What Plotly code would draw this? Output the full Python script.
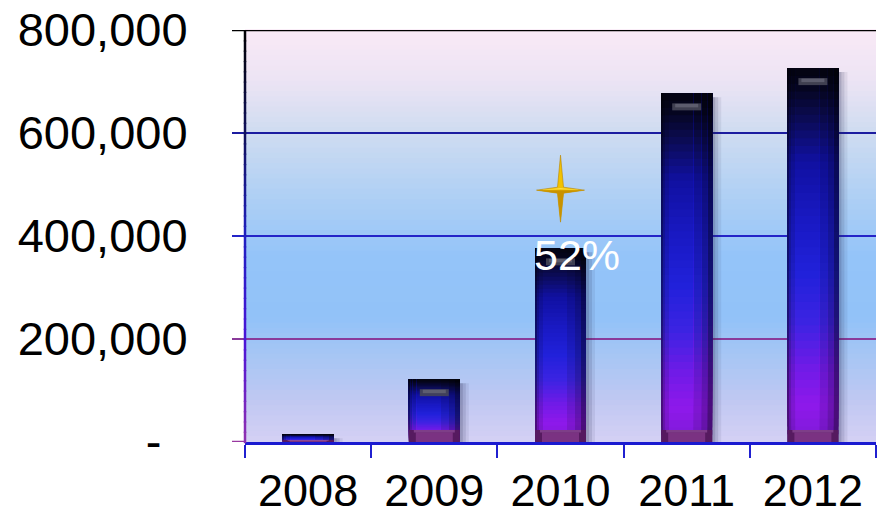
import plotly.graph_objects as go

# ---- data ----
years = ["2008", "2009", "2010", "2011", "2012"]
values = [15000, 122000, 376000, 677000, 726000]
y_tick_vals = [0, 200000, 400000, 600000, 800000]
y_tick_text = ["-\u00a0\u00a0", "200,000", "400,000", "600,000", "800,000"]
growth_label = "52%"
growth_year = "2010"

# ---- geometry helpers (plot area is 631 x 412 px) ----
PLOT_W, PLOT_H = 631, 412
Y_MAX = 800000
PX_X = 5.0 / PLOT_W          # one pixel in category units
PX_Y = Y_MAX / PLOT_H        # one pixel in value units
BAR_W = 51 * PX_X


def hex_to_rgb(h):
    h = h.lstrip("#")
    return tuple(int(h[i:i + 2], 16) for i in (0, 2, 4))


def ramp(stops, f, k=1.0):
    f = max(0.0, min(1.0, f))
    for (f0, c0), (f1, c1) in zip(stops, stops[1:]):
        if f0 <= f <= f1:
            t = 0 if f1 == f0 else (f - f0) / (f1 - f0)
            a, b = hex_to_rgb(c0), hex_to_rgb(c1)
            r = [min(255, int(round((a[i] + (b[i] - a[i]) * t) * k))) for i in range(3)]
            return "rgb(%d,%d,%d)" % tuple(r)
    return stops[-1][1]


# vertical colour ramp of a bar, 0 = bottom, 1 = top
bar_stops = [
    (0.00, "#7a1ad0"), (0.10, "#8a18e4"), (0.20, "#6c1ae0"), (0.32, "#3a22dc"),
    (0.45, "#2020d4"), (0.60, "#1818bc"), (0.75, "#10109c"), (0.88, "#0a0a48"),
    (0.95, "#05051e"), (1.00, "#03030f"),
]
# plot background ramp, 0 = top, 1 = bottom
bg_stops = [
    (0.00, "#f9e9f6"), (0.12, "#ede4f4"), (0.25, "#cfdcf1"), (0.40, "#b0d0f4"),
    (0.55, "#94c4f9"), (0.70, "#92c2f8"), (0.80, "#a8c6f4"), (0.90, "#c0c8f2"),
    (1.00, "#d4d0f4"),
]
# left axis line ramp, 0 = top, 1 = bottom
axis_stops = [
    (0.00, "#000000"), (0.25, "#10105a"), (0.50, "#2020c0"), (0.75, "#4a14d8"),
    (1.00, "#9030b0"),
]

fig = go.Figure()
n = len(years)


def add_bar(base, height, left_px, width_px, color, opacity=1.0):
    fig.add_trace(go.Bar(
        x=years, y=height, base=base,
        width=[width_px * PX_X] * n,
        offset=[-BAR_W / 2 + left_px * PX_X] * n,
        marker=dict(color=color, line=dict(width=0)),
        opacity=opacity, hoverinfo="skip", showlegend=False,
    ))


# soft drop shadow to the right
for dx, op in [(9, 0.08), (6, 0.12), (3, 0.16)]:
    add_bar([0] * n, [max(v - 4 * PX_Y, 0) for v in values], dx, 51, "rgb(40,40,80)", op)

# bar body: stacked gradient slices, four layers for the rounded side shading
SEG = 48
layers = [(0, 51, 0.55), (2, 44, 0.78), (4, 36, 0.92), (8, 24, 1.03)]
for left, width, k in layers:
    for s in range(SEG):
        f0 = s / SEG
        col = ramp(bar_stops, f0 + 0.5 / SEG, k)
        add_bar([v * f0 for v in values], [v * (1 - f0) for v in values], left, width, col)

# bevel at the bottom of each bar
bev_h = [min(12 * PX_Y, 0.2 * v) for v in values]
add_bar([0] * n, bev_h, 0, 51, "#561a60")
add_bar([0] * n, [h * 0.8 for h in bev_h], 7, 37, "#7a3282")
add_bar([h * 0.8 for h in bev_h], [h * 0.2 for h in bev_h], 5, 41, "#9a56a4", 0.6)

# bevel highlight near the top of each bar
tall = [v > 40 * PX_Y for v in values]
hl_base = [v - 17 * PX_Y if t else 0 for v, t in zip(values, tall)]
hl_h = [7 * PX_Y if t else 0 for t in tall]
add_bar(hl_base, hl_h, 11, 29, "rgb(70,70,86)", 0.9)
add_bar([b + 3 * PX_Y for b in hl_base], [h * 0.5 for h in hl_h], 14, 23, "rgb(100,100,116)", 0.8)

shapes = []
# plot background gradient
NB = 80
for i in range(NB):
    shapes.append(dict(type="rect", xref="x domain", yref="y domain",
                       x0=0, x1=1, y0=1 - (i + 1) / NB, y1=1 - i / NB + 0.002,
                       fillcolor=ramp(bg_stops, (i + 0.5) / NB), line=dict(width=0),
                       layer="below"))

# horizontal gridlines with their ticks on the left
tick_px = 13 / PLOT_W
grid = [(800000, "#000000", 2.5), (600000, "#1c1ca0", 2), (400000, "#2424c8", 2),
        (200000, "#8a3a9a", 2)]
for yv, col, w in grid:
    shapes.append(dict(type="line", xref="x domain", yref="y", x0=-tick_px, x1=1,
                       y0=yv, y1=yv, line=dict(color=col, width=w), layer="below"))
shapes.append(dict(type="line", xref="x domain", yref="y", x0=-tick_px, x1=0,
                   y0=0, y1=0, line=dict(color="#9838a0", width=2.5), layer="above"))

# left axis line with a colour ramp
NA = 40
for i in range(NA):
    shapes.append(dict(type="line", xref="x domain", yref="y domain", x0=0, x1=0,
                       y0=1 - (i + 1) / NA - 0.003, y1=1 - i / NA,
                       line=dict(color=ramp(axis_stops, (i + 0.5) / NA), width=2.5),
                       layer="above"))

# four-point gold sparkle above the 2010 bar
cx = years.index(growth_year)
cy = 489000


def star_path(pts):
    return "M " + " L ".join("%f,%f" % (cx + dx * PX_X, cy + dy * PX_Y) for dx, dy in pts) + " Z"


star = [(0, 35), (3, 3), (24, 0), (3, -3), (0, -32), (-3, -3), (-24, 0), (-3, 3)]
shapes.append(dict(type="path", xref="x", yref="y", path=star_path(star),
                   fillcolor="#f2c200", line=dict(color="#b88400", width=0.6), layer="above"))
lower = [(-24, 0), (24, 0), (3, -3), (0, -32), (-3, -3)]
shapes.append(dict(type="path", xref="x", yref="y", path=star_path(lower),
                   fillcolor="#c89200", line=dict(width=0), layer="above"))
upper = [(-20, 0.5), (0, 2), (20, 0.5), (0, 1)]
shapes.append(dict(type="path", xref="x", yref="y", path=star_path(upper),
                   fillcolor="#ffe45a", line=dict(width=0), layer="above"))

font_family = "Liberation Sans, Arial, sans-serif"

fig.update_layout(
    width=877, height=519,
    margin=dict(l=245, r=1, t=30, b=77, autoexpand=False),
    paper_bgcolor="white", plot_bgcolor="white",
    barmode="overlay",
    shapes=shapes,
    font=dict(family=font_family, color="black"),
    annotations=[dict(x=cx, y=363000, xref="x", yref="y", text=growth_label,
                      showarrow=False, xshift=16,
                      font=dict(family=font_family, size=43, color="white"))],
    xaxis=dict(type="category", range=[-0.5, 4.5], tickson="boundaries",
               ticks="outside", ticklen=13, tickwidth=2, tickcolor="#2020d0",
               showline=True, linecolor="#1a1ad0", linewidth=3,
               showgrid=False, zeroline=False, automargin=False,
               tickfont=dict(family=font_family, size=45, color="black"),
               ticklabelstandoff=7),
    yaxis=dict(range=[0, Y_MAX], tickvals=y_tick_vals, ticktext=y_tick_text,
               ticks="outside", ticklen=13, tickcolor="rgba(0,0,0,0)",
               showline=False, showgrid=False, zeroline=False, automargin=False,
               tickfont=dict(family=font_family, size=47, color="black"),
               ticklabelstandoff=34),
)

fig.write_html("out.html")
